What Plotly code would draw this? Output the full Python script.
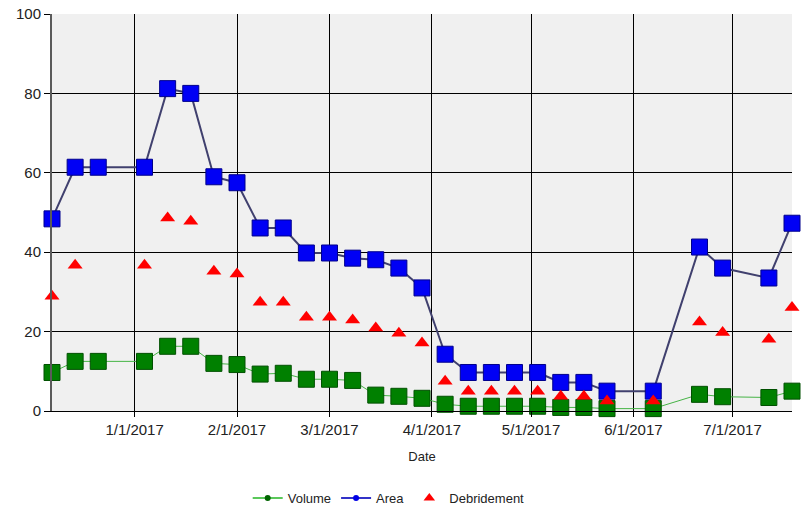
import plotly.graph_objects as go

# Weekly wound measurements
dates = [
    "2016-12-07", "2016-12-14", "2016-12-21", "2017-01-04", "2017-01-11",
    "2017-01-18", "2017-01-25", "2017-02-01", "2017-02-08", "2017-02-15",
    "2017-02-22", "2017-03-01", "2017-03-08", "2017-03-15", "2017-03-22",
    "2017-03-29", "2017-04-05", "2017-04-12", "2017-04-19", "2017-04-26",
    "2017-05-03", "2017-05-10", "2017-05-17", "2017-05-24", "2017-06-07",
    "2017-06-21", "2017-06-28", "2017-07-12", "2017-07-19",
]
volume = [
    9.7, 12.5, 12.5, 12.5, 16.3, 16.3, 12.0, 11.7, 9.3, 9.5,
    8.0, 8.0, 7.7, 4.0, 3.7, 3.2, 1.7, 1.2, 1.2, 1.2,
    1.2, 0.9, 0.9, 0.6, 0.6, 4.2, 3.6, 3.4, 5.0,
]
area = [
    48.4, 61.4, 61.4, 61.4, 81.2, 80.0, 59.0, 57.5, 46.1, 46.1,
    39.8, 39.8, 38.5, 38.1, 36.0, 31.0, 14.3, 9.7, 9.7, 9.7,
    9.7, 7.2, 7.2, 5.0, 5.0, 41.3, 36.0, 33.5, 47.3,
]
debridement = [
    28.9, 36.7, None, 36.7, 48.6, 47.8, 35.2, 34.5, 27.4, 27.4,
    23.6, 23.6, 22.9, 20.9, 19.6, 17.1, 7.5, 5.0, 5.0, 5.0,
    5.0, 3.7, 3.7, 2.5, 2.5, 22.4, 19.8, 18.1, 26.1,
]

month_ticks = ["2017-01-01", "2017-02-01", "2017-03-01", "2017-04-01",
               "2017-05-01", "2017-06-01", "2017-07-01"]
month_labels = ["1/1/2017", "2/1/2017", "3/1/2017", "4/1/2017",
                "5/1/2017", "6/1/2017", "7/1/2017"]

FONT = "Liberation Sans, Arial, sans-serif"
TEXT = "#222222"

fig = go.Figure()

# Volume series: light green connector, green block markers
fig.add_trace(go.Scatter(
    x=dates, y=volume, mode="lines+markers", name="Volume", showlegend=False,
    line=dict(color="rgb(70,180,70)", width=1),
    marker=dict(symbol="square", size=16, color="rgb(0,128,0)",
                line=dict(color="rgb(0,80,0)", width=1)),
    cliponaxis=False, connectgaps=True,
))

# Area series: slate connector, blue block markers
fig.add_trace(go.Scatter(
    x=dates, y=area, mode="lines+markers", name="Area", showlegend=False,
    line=dict(color="rgb(64,64,110)", width=2),
    marker=dict(symbol="square", size=16, color="rgb(0,0,245)",
                line=dict(color="rgb(0,0,140)", width=1)),
    cliponaxis=False, connectgaps=True,
))

# Debridement series: red triangles only
fig.add_trace(go.Scatter(
    x=dates, y=debridement, mode="markers", name="Debridement", showlegend=False,
    marker=dict(symbol="triangle-up", size=13, color="rgb(255,0,0)"),
    cliponaxis=False,
))

# Legend entries with small dot markers
fig.add_trace(go.Scatter(
    x=[None], y=[None], mode="lines+markers", name="Volume",
    line=dict(color="rgb(90,200,90)", width=2),
    marker=dict(symbol="circle", size=6, color="rgb(0,100,0)"),
))
fig.add_trace(go.Scatter(
    x=[None], y=[None], mode="lines+markers", name="Area",
    line=dict(color="rgb(50,50,200)", width=2),
    marker=dict(symbol="circle", size=6, color="rgb(0,0,230)"),
))
fig.add_trace(go.Scatter(
    x=[None], y=[None], mode="markers", name="Debridement",
    marker=dict(symbol="triangle-up", size=10, color="rgb(255,0,0)"),
))

fig.update_layout(
    width=807, height=508,
    margin=dict(l=52, r=15, t=14, b=97, autoexpand=False),
    paper_bgcolor="white",
    plot_bgcolor="rgb(240,240,240)",
    font=dict(family=FONT, size=13, color=TEXT),
    showlegend=True,
    legend=dict(
        orientation="h", x=0.455, xanchor="center", y=-0.219, yanchor="middle",
        font=dict(family=FONT, size=13, color=TEXT),
        bgcolor="rgba(0,0,0,0)", itemwidth=30,
    ),
)

fig.update_xaxes(
    type="date",
    range=["2016-12-07", "2017-07-19"],
    tickvals=month_ticks, ticktext=month_labels,
    tickfont=dict(family=FONT, size=15, color=TEXT),
    ticks="outside", ticklen=5, tickcolor="black",
    showgrid=True, gridcolor="black", gridwidth=1,
    showline=True, linecolor="black", linewidth=1,
    zeroline=False,
    title=dict(text="Date", font=dict(family=FONT, size=13, color=TEXT), standoff=14),
)

fig.update_yaxes(
    range=[0, 100], tickvals=[0, 20, 40, 60, 80, 100],
    tickfont=dict(family=FONT, size=15, color=TEXT),
    ticks="outside", ticklen=6, tickcolor="black",
    showgrid=True, gridcolor="black", gridwidth=1,
    showline=True, linecolor="rgb(90,90,90)", linewidth=2,
    zeroline=False,
)

fig.write_html("out.html")
